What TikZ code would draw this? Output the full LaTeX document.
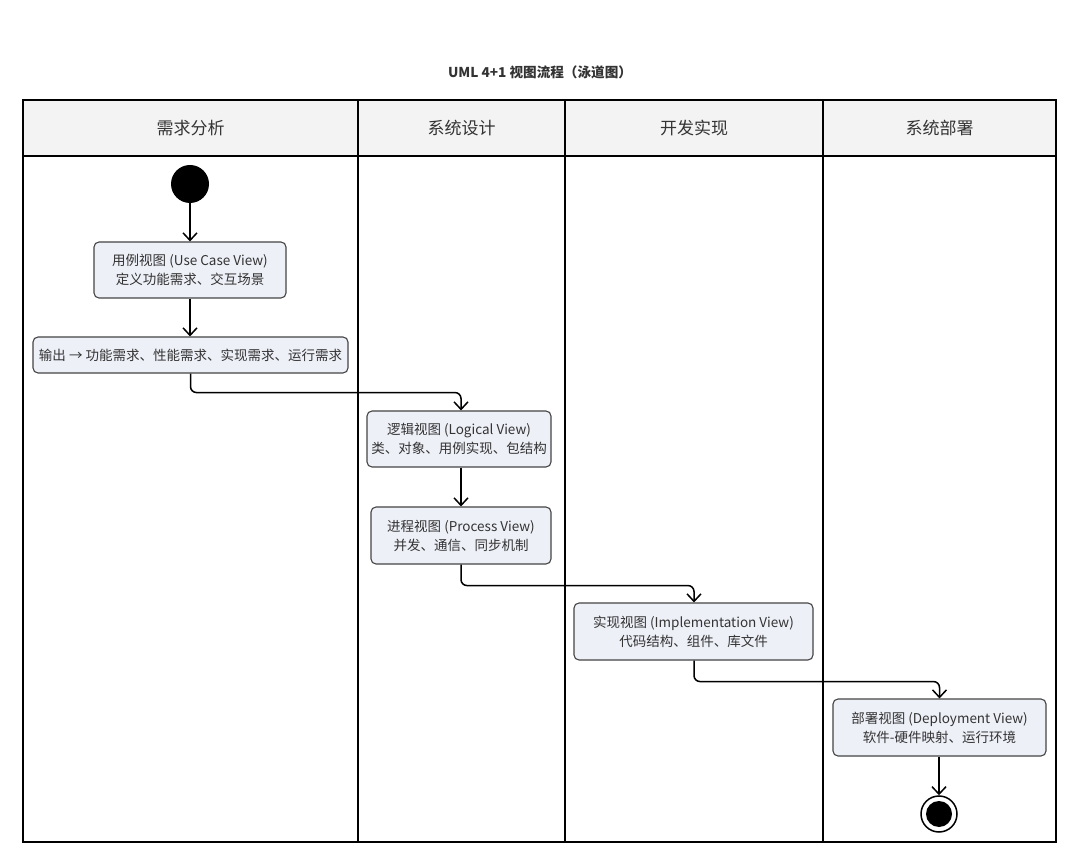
\documentclass[tikz,border=0pt]{standalone}
\usepackage{fontspec}
\setmainfont{Noto Sans CJK SC}
\usetikzlibrary{arrows.meta}
\definecolor{boxfill}{HTML}{EEF0F8}
\definecolor{boxline}{HTML}{444444}
\definecolor{headfill}{HTML}{F3F3F3}
\definecolor{txt}{HTML}{333333}
\tikzset{
  viewbox/.style={draw=boxline, fill=boxfill, line width=1.1pt, rounded corners=5pt, align=center,
    font=\fontsize{13.5}{19}\selectfont, text=txt, inner sep=0pt},
  arr/.style={-{Straight Barb[length=7.5pt,width=14pt,line width=1.5pt]}, line width=1.5pt, black},
  lanehead/.style={font=\fontsize{17}{19}\selectfont, text=txt},
  lane/.style={line width=1.5pt, black}
}
\begin{document}
\begin{tikzpicture}[x=1pt,y=-1pt]
\useasboundingbox (0,0) rectangle (1080,866);
% title
\node[font=\bfseries\fontsize{13.6}{15}\selectfont, text=txt] (title) at (540,72) {UML 4+1 视图流程（泳道图）};
% swimlane frame
\fill[headfill] (23,100) rectangle (1056,156);
\draw[lane] (23,100) rectangle (1056,842);
\draw[lane] (23,156) -- (1056,156);
\draw[lane] (358,100) -- (358,842);
\draw[lane] (565,100) -- (565,842);
\draw[lane] (823,100) -- (823,842);
\node[lanehead] (h1) at (190.5,128) {需求分析};
\node[lanehead] (h2) at (461.5,128) {系统设计};
\node[lanehead] (h3) at (694,128) {开发实现};
\node[lanehead] (h4) at (939.5,128) {系统部署};
% start
\node[circle, fill=black, minimum size=38pt, inner sep=0pt] (start) at (190,184) {};
% boxes
\node[viewbox, minimum width=192pt, minimum height=56pt] (b1) at (190,270) {用例视图 (Use Case View)\\定义功能需求、交互场景};
\node[viewbox, minimum width=315pt, minimum height=36pt] (b2) at (190.5,355) {输出 → 功能需求、性能需求、实现需求、运行需求};
\node[viewbox, minimum width=184pt, minimum height=56pt] (b3) at (459,439) {逻辑视图 (Logical View)\\类、对象、用例实现、包结构};
\node[viewbox, minimum width=180pt, minimum height=57pt] (b4) at (461,535.5) {进程视图 (Process View)\\并发、通信、同步机制};
\node[viewbox, minimum width=239pt, minimum height=57pt] (b5) at (693.5,631.5) {实现视图 (Implementation View)\\代码结构、组件、库文件};
\node[viewbox, minimum width=213pt, minimum height=57pt] (b6) at (939.5,727.5) {部署视图 (Deployment View)\\软件-硬件映射、运行环境};
% end
\node[circle, draw=black, line width=1.5pt, fill=white, minimum size=36pt, inner sep=0pt] (endo) at (939,814) {};
\node[circle, fill=black, minimum size=26pt, inner sep=0pt] (endi) at (endo.center) {};
% connectors
\draw[arr] (start.south) -- (b1.north);
\draw[arr] (b1.south) -- (b1.south |- b2.north);
\draw[arr, rounded corners=6pt] (b2.south) -- ++(0,19) -| ([xshift=2pt]b3.north);
\draw[arr] (b3.south -| b4.north) -- (b4.north);
\draw[arr, rounded corners=6pt] (b4.south) -- ++(0,21) -| ([xshift=0.5pt]b5.north);
\draw[arr, rounded corners=6pt] ([xshift=0.5pt]b5.south) -- ++(0,21) -| (b6.north);
\draw[arr] (b6.south -| endo.north) -- (endo.north);
\end{tikzpicture}
\end{document}
